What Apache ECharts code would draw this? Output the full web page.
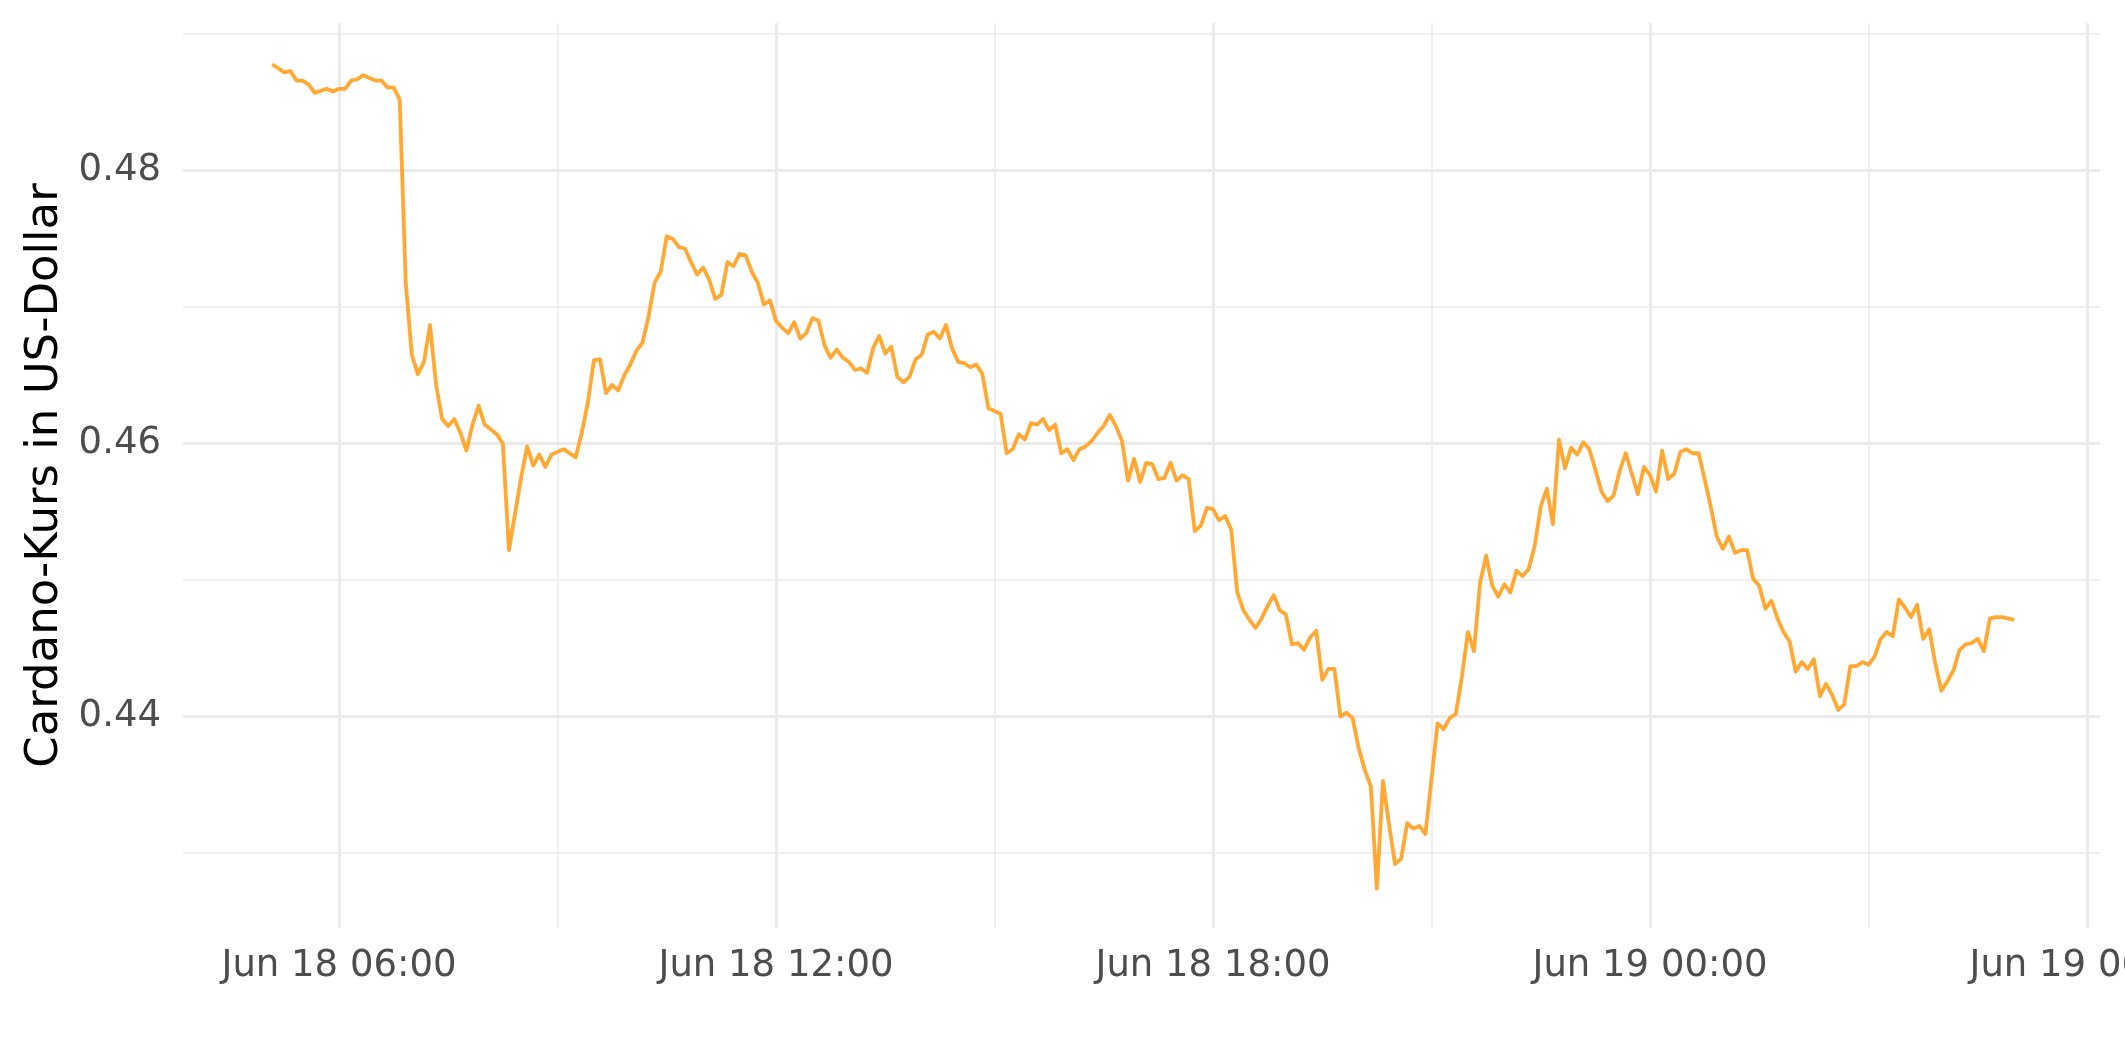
<!DOCTYPE html>
<html>
<head>
<meta charset="utf-8">
<script src="https://cdn.jsdelivr.net/npm/echarts@6/dist/echarts.min.js"></script>
<style>
  html, body { margin: 0; padding: 0; background: #ffffff; }
  #chart { width: 2125px; height: 1062px; }
</style>
</head>
<body>
<div id="chart"></div>
<script>
// Minutes relative to Jun 18 06:00
const minutes = [-55,-45,-40,-35,-30,-25,-20,-10,-5,0,5,10,15,20,30,35,40,45,50,55,60,65,70,75,80,85,90,95,100,105,110,115,120,130,135,140,150,155,160,165,170,175,180,185,195,200,205,210,215,220,225,230,235,240,245,250,255,260,265,270,275,280,285,290,295,300,305,310,315,320,325,330,335,340,345,350,355,360,365,370,375,380,385,390,395,400,405,410,415,420,425,430,435,440,445,450,455,460,465,470,475,480,485,490,495,500,505,510,515,520,525,530,535,540,545,550,555,560,565,570,575,580,585,590,595,600,605,610,615,620,625,630,635,640,645,650,655,660,665,670,675,680,685,690,695,700,705,710,715,720,725,730,735,740,745,750,755,760,765,770,775,780,785,790,795,800,805,810,815,820,825,830,835,840,845,850,855,860,865,870,875,880,885,890,895,905,910,915,920,925,930,935,940,945,950,955,960,965,970,975,980,985,990,995,1000,1005,1010,1015,1020,1025,1030,1035,1040,1045,1050,1055,1060,1065,1070,1075,1080,1085,1090,1095,1100,1105,1110,1115,1120,1125,1130,1135,1140,1145,1150,1155,1160,1165,1170,1175,1180,1185,1190,1195,1200,1205,1210,1215,1220,1225,1230,1235,1240,1245,1250,1255,1260,1265,1270,1275,1280,1285,1290,1295,1300,1305,1310,1315,1320,1325,1330,1335,1340,1345,1350,1355,1360,1365,1370,1380];

const prices = [0.4878,0.4872,0.4873,0.4866,0.4866,0.4863,0.4857,0.4860,0.4858,0.4860,0.4860,0.4866,0.4867,0.4870,0.4866,0.4866,0.4861,0.4861,0.4852,0.4718,0.4665,0.4651,0.4660,0.4687,0.4643,0.4618,0.4613,0.4618,0.4608,0.4595,0.4614,0.4628,0.4614,0.4607,0.4600,0.4522,0.4575,0.4598,0.4584,0.4592,0.4583,0.4592,0.4594,0.4596,0.4590,0.4608,0.4630,0.4661,0.4662,0.4637,0.4643,0.4639,0.4650,0.4658,0.4668,0.4674,0.4693,0.4718,0.4726,0.4752,0.4750,0.4744,0.4743,0.4733,0.4724,0.4729,0.4720,0.4706,0.4709,0.4733,0.4730,0.4739,0.4738,0.4726,0.4718,0.4702,0.4705,0.4690,0.4685,0.4681,0.4689,0.4677,0.4681,0.4692,0.4690,0.4672,0.4663,0.4669,0.4663,0.4660,0.4654,0.4655,0.4652,0.4670,0.4679,0.4666,0.4671,0.4649,0.4645,0.4649,0.4662,0.4665,0.4680,0.4682,0.4677,0.4687,0.4670,0.4660,0.4659,0.4656,0.4658,0.4651,0.4626,0.4624,0.4622,0.4593,0.4596,0.4607,0.4603,0.4615,0.4614,0.4618,0.4610,0.4614,0.4593,0.4596,0.4588,0.4596,0.4598,0.4602,0.4608,0.4613,0.4621,0.4613,0.4602,0.4573,0.4589,0.4572,0.4586,0.4585,0.4574,0.4575,0.4586,0.4573,0.4577,0.4574,0.4536,0.4540,0.4553,0.4552,0.4544,0.4547,0.4537,0.4491,0.4478,0.4471,0.4465,0.4472,0.4481,0.4489,0.4478,0.4475,0.4453,0.4454,0.4449,0.4458,0.4463,0.4427,0.4435,0.4435,0.4400,0.4403,0.4399,0.4377,0.4361,0.4349,0.4274,0.4353,0.4321,0.4292,0.4296,0.4322,0.4318,0.4320,0.4314,0.4395,0.4391,0.4399,0.4402,0.4429,0.4462,0.4448,0.4498,0.4518,0.4496,0.4488,0.4497,0.4491,0.4507,0.4503,0.4508,0.4525,0.4554,0.4567,0.4541,0.4603,0.4582,0.4597,0.4592,0.4601,0.4596,0.4581,0.4565,0.4558,0.4562,0.4580,0.4593,0.4578,0.4563,0.4583,0.4577,0.4565,0.4595,0.4574,0.4578,0.4594,0.4596,0.4593,0.4593,0.4574,0.4554,0.4532,0.4523,0.4532,0.4520,0.4522,0.4522,0.4501,0.4496,0.4479,0.4485,0.4472,0.4462,0.4455,0.4433,0.4440,0.4435,0.4442,0.4415,0.4424,0.4416,0.4405,0.4409,0.4437,0.4437,0.4440,0.4438,0.4444,0.4457,0.4462,0.4459,0.4486,0.4480,0.4473,0.4482,0.4457,0.4464,0.4439,0.4419,0.4426,0.4434,0.4449,0.4453,0.4454,0.4457,0.4448,0.4472,0.4473,0.4473,0.4471];

// Axis ticks (x in minutes relative to Jun 18 06:00)
const xMajorTickMinutes = [0, 360, 720, 1080, 1440];
const xMajorTickLabels = ["Jun 18 06:00", "Jun 18 12:00", "Jun 18 18:00", "Jun 19 00:00", "Jun 19 06:00"];
const xMinorTickMinutes = [180, 540, 900, 1260];
const yMajorTicks = [0.44, 0.46, 0.48];
const yMajorTickLabels = ["0.44", "0.46", "0.48"];
const yMinorTicks = [0.43, 0.45, 0.47, 0.49];

const yTitle = "Cardano-Kurs in US-Dollar";

const seriesData = minutes.map((m, i) => [m, prices[i]]);

const xMin = -128.5;
const xMax = 1450.7;
const yMin = 0.42452;
const yMax = 0.49082;

const gridColor = '#EBEBEB';
const font = 'DejaVu Sans';

function nearestLabel(v, ticks, labels) {
  let best = 0, bd = Infinity;
  ticks.forEach((t, i) => { const d = Math.abs(t - v); if (d < bd) { bd = d; best = i; } });
  return labels[best];
}

const chart = echarts.init(document.getElementById('chart'), null, { renderer: 'canvas' });
chart.setOption({
  animation: false,
  backgroundColor: '#ffffff',
  grid: { left: 183, right: 25, top: 23, bottom: 134, containLabel: false, outerBoundsMode: 'none' },
  xAxis: [
    {
      type: 'value', min: xMin, max: xMax,
      axisLine: { show: false },
      axisTick: { show: false, customValues: xMajorTickMinutes },
      axisLabel: {
        customValues: xMajorTickMinutes,
        color: '#4D4D4D', fontFamily: font, fontSize: 37, margin: 20,
        formatter: v => nearestLabel(v, xMajorTickMinutes, xMajorTickLabels)
      },
      splitLine: { show: true, lineStyle: { color: gridColor, width: 3 } }
    },
    {
      type: 'value', min: xMin, max: xMax,
      axisLine: { show: false },
      axisTick: { show: false, customValues: xMinorTickMinutes },
      axisLabel: { show: false, customValues: xMinorTickMinutes },
      splitLine: { show: true, lineStyle: { color: gridColor, width: 1.6 } }
    }
  ],
  yAxis: [
    {
      type: 'value', min: yMin, max: yMax,
      axisLine: { show: false },
      axisTick: { show: false, customValues: yMajorTicks },
      axisLabel: {
        customValues: yMajorTicks,
        color: '#4D4D4D', fontFamily: font, fontSize: 37, margin: 22,
        formatter: v => nearestLabel(v, yMajorTicks, yMajorTickLabels)
      },
      splitLine: { show: true, lineStyle: { color: gridColor, width: 3 } },
      name: yTitle,
      nameLocation: 'middle',
      nameGap: 115,
      nameRotate: 90,
      nameTextStyle: { color: '#000000', fontFamily: font, fontSize: 45 }
    },
    {
      type: 'value', min: yMin, max: yMax,
      axisLine: { show: false },
      axisTick: { show: false, customValues: yMinorTicks },
      axisLabel: { show: false, customValues: yMinorTicks },
      splitLine: { show: true, lineStyle: { color: gridColor, width: 1.6 } }
    }
  ],
  series: [
    {
      type: 'line',
      xAxisIndex: 0, yAxisIndex: 0,
      data: seriesData,
      showSymbol: false,
      symbol: 'none',
      lineStyle: { color: '#FFA833', width: 3.8, join: 'round' },
      z: 10
    }
  ]
});
</script>
</body>
</html>
